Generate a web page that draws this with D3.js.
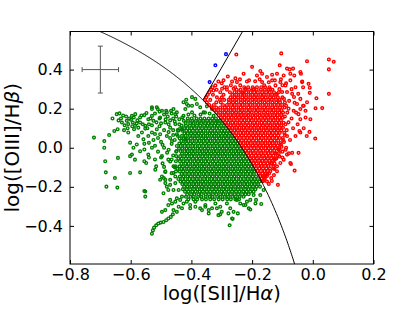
<!DOCTYPE html>
<html>
<head>
<meta charset="utf-8">
<script src="https://cdn.jsdelivr.net/npm/d3@7"></script>
<style>
    body { margin: 0; background: #fff; }
    svg { display: block; }
    text { font-family: "DejaVu Sans", sans-serif; fill: #000; }
</style>
</head>
<body>
<svg></svg>
<script>

/*
*   Data. All values are x1000.
*   Dense clouds are kept as rows: [y, x, x, x, ...]
*   Scattered points are kept as flat pairs: x, y, x, y, ...
*/

const GREEN_ROWS = [
    [150, -412,-399,-383,-370,-357,-343,-331,-319],
    [138, -425,-411,-397,-385,-372,-361,-348,-337,-325,-314,-306],
    [126, -419,-404,-393,-380,-368,-355,-344,-332,-321,-309,-299],
    [113, -432,-418,-405,-394,-382,-371,-358,-347,-335,-324,-313,-302,-293],
    [100, -437,-424,-413,-400,-389,-376,-365,-352,-342,-330,-317,-307,-296,-286],
    [87, -443,-430,-417,-406,-395,-382,-371,-360,-346,-336,-323,-313,-301,-290,-280],
    [74, -423,-412,-401,-388,-376,-366,-353,-340,-330,-318,-305,-295,-284,-273],
    [61, -445,-431,-419,-405,-395,-382,-370,-360,-347,-334,-324,-311,-300,-289,-277,-266],
    [48, -439,-426,-415,-402,-389,-379,-366,-353,-343,-330,-317,-307,-294,-283,-270,-260],
    [35, -433,-420,-410,-397,-384,-373,-360,-348,-337,-324,-312,-302,-289,-277,-266,-254],
    [22, -440,-428,-415,-404,-392,-378,-368,-355,-342,-332,-319,-306,-296,-283,-271,-260,-248],
    [9, -448,-435,-422,-411,-397,-387,-374,-361,-351,-338,-325,-315,-302,-290,-279,-266,-254,-243],
    [-4, -441,-430,-416,-405,-394,-380,-369,-356,-345,-331,-321,-308,-297,-284,-273,-260,-249,-239],
    [-17, -449,-436,-423,-412,-399,-388,-374,-364,-351,-340,-327,-316,-303,-292,-279,-268,-255,-244,-233],
    [-30, -431,-417,-406,-394,-381,-371,-358,-346,-335,-322,-311,-298,-287,-274,-262,-251,-238,-228],
    [-43, -450,-437,-424,-413,-400,-389,-376,-364,-353,-340,-329,-316,-305,-292,-281,-268,-257,-244,-233,-222],
    [-56, -443,-432,-418,-408,-395,-383,-372,-359,-348,-334,-324,-310,-300,-287,-276,-263,-252,-239,-228,-217],
    [-69, -451,-438,-427,-414,-403,-390,-378,-367,-354,-343,-330,-319,-306,-294,-283,-270,-259,-246,-235,-223,-212],
    [-82, -433,-420,-409,-396,-385,-372,-361,-348,-337,-324,-313,-300,-289,-276,-265,-252,-241,-228,-217,-207],
    [-95, -452,-439,-428,-415,-404,-391,-380,-367,-356,-343,-332,-319,-308,-295,-284,-271,-260,-247,-236,-223,-212,-202],
    [-108, -446,-433,-422,-409,-398,-385,-374,-361,-350,-337,-326,-313,-302,-289,-278,-265,-254,-241,-230,-217,-206,-197],
    [-121, -451,-438,-427,-414,-401,-391,-378,-366,-355,-342,-331,-318,-307,-294,-283,-270,-259,-246,-235,-222,-211,-200,-193],
    [-134, -432,-421,-408,-397,-384,-373,-360,-349,-336,-325,-312,-301,-288,-277,-264,-253,-240,-229,-216,-205,-194],
    [-147, -438,-426,-413,-402,-389,-378,-365,-354,-341,-330,-317,-306,-293,-282,-269,-258,-245,-234,-221,-210,-198,-187],
    [-160, -443,-430,-419,-406,-395,-382,-371,-358,-347,-334,-323,-310,-299,-286,-275,-262,-251,-238,-227,-214,-203,-191,-181],
    [-173, -436,-425,-412,-401,-388,-377,-364,-353,-340,-329,-316,-305,-292,-281,-268,-257,-244,-233,-220,-209,-197,-186,-176],
    [-186, -430,-418,-407,-394,-383,-370,-359,-346,-335,-322,-311,-298,-287,-274,-263,-250,-239,-226,-215,-202,-191,-180],
    [-199, -424,-413,-400,-389,-376,-365,-352,-341,-328,-317,-304,-293,-280,-269,-256,-245,-232,-221,-208,-197,-185,-174],
    [-212, -428,-415,-404,-391,-380,-367,-356,-343,-332,-319,-308,-295,-284,-271,-260,-247,-236,-223,-212,-200,-189],
    [-225, -421,-410,-397,-386,-373,-362,-349,-338,-325,-314,-301,-290,-277,-266,-253,-242,-229,-218,-206,-195],
    [-238, -414,-401,-390,-377,-366,-353,-342,-329,-318,-305,-294,-281,-270,-257,-246,-233,-222,-211],
    [-251, -418,-403,-392,-378,-367,-353,-340,-330,-315,-304,-290,-279,-265,-254,-241,-228],
    [-264, -410,-393,-381,-365,-352,-338,-325,-310,-297,-282,-270,-255,-243],
]

const GREEN_PTS = [
    -721,52, -687,34, -671,65, -687,0, -684,-69, -682,-126, -680,-199, -652,-155, -644,-204, -642,-52,
    -660,150, -646,172, -637,176, -654,86, -643,95, -629,129, -622,90, -613,138, -608,121, -599,143,
    -593,129, -586,112, -596,163, -585,172, -569,155, -555,167, -542,146, -530,163, -525,138, -511,198,
    -530,207, -575,103, -563,78, -552,98, -575,60, -558,43, -542,60, -530,78, -514,95, -503,69,
    -602,26, -591,0, -580,17, -569,-18, -596,-35, -602,-43, -586,-61, -555,-9, -542,-35, -530,0,
    -555,-69, -549,-78, -516,-95, -519,-112, -490,-98, -486,-124, -497,-147, -491,-155, -602,-129, -569,-126,
    -555,-221, -552,-250, -497,189, -481,181, -467,189, -453,172, -440,146, -426,163, -415,224, -398,215,
    -420,198, -486,129, -470,103, -453,121, -481,60, -464,34, -448,69, -431,95, -420,43, -497,-43,
    -476,-61, -459,-95, -486,-164, -470,-190, -453,-147, -442,-216, -476,-216,
    -530,-440, -527,-423, -523,-409, -516,-397, -509,-388, -501,-383, -492,-380, -483,-371, -476,-362, -468,-354,
    -461,-341, -497,-328, -486,-319, -459,-319, -448,-328, -442,-302, -431,-310, -426,-285, -476,-293, -464,-285,
    -453,-276, -470,-267, -448,-259, -437,-267, -431,-250, -415,-276, -404,-293, -387,-302, -371,-310, -492,-233,
    -481,-199, -486,-181, -552,-224, -459,-216, -470,-164, -453,-181, -503,-164, -486,-121, -459,-129,
    -343,-336, -332,-310, -311,-345, -300,-328, -278,-336, -272,-310, -266,-362, -274,-397, -261,-328, -305,-302,
    -354,-302, -365,-319, -321,-285, -239,-285, -222,-293, -206,-267, -189,-285, -211,-310, -173,-242, -195,-242,
    -250,-267, -283,-285, -387,-276, -404,-310, -170,-288, -187,-267, -206,-316, -247,-336, -264,-364, -228,-293,
    -217,-276, -162,-216, -305,-341, -316,-310, -343,-319, -354,-293,
    -426,233, -417,246, -398,259, -410,215, -387,250, -382,224, -371,207, -349,212, -332,198, -360,181,
    -459,198, -448,181, -514,207, -530,198, -483,189, -327,163, -316,138, -398,181, -503,155, -569,129,
    -552,112, -589,95, -608,78,
    -470,50, -465,20, -475,-10, -460,-40, -470,-70, -455,-100, -465,-130, -460,90, -475,120, -490,0,
    -500,30, -510,-20, -495,-80, -520,70, -540,120, -505,150, -460,150, -440,120, -430,155, -410,170,
    -390,165, -370,170, -355,180, -340,175,
    -615,160, -605,150, -590,155, -578,140, -565,165, -548,178, -535,150, -520,175, -505,185, -490,170,
    -478,160, -465,175, -450,160, -470,140, -455,135, -485,145, -500,125, -515,130, -530,115, -545,100,
    -560,120, -580,125, -595,110, -610,100, -620,115, -632,150, -640,140, -625,165, -505,110, -490,90,
    -475,80, -460,65, -445,90, -510,50, -525,40, -540,25, -555,20, -520,10, -495,15, -480,-25,
    -500,-50, -520,-60, -540,-50, -465,-60, -450,-20, -455,40,
]

const RED_ROWS = [
    [310, -330,-291,-256,-226,-213,-198,-184,-170,-157,-143],
    [297, -335,-317,-283,-251,-238,-223,-210,-197,-185,-171,-158,-146,-133],
    [284, -341,-305,-273,-258,-244,-232,-219,-205,-193,-181,-167,-154,-142,-128,-112],
    [271, -346,-329,-294,-265,-252,-238,-226,-212,-199,-187,-173,-161,-147,-134,-121],
    [258, -351,-316,-300,-271,-258,-246,-232,-220,-206,-193,-181,-167,-155,-141,-129,-115,-100],
    [245, -355,-338,-306,-292,-277,-264,-252,-238,-225,-213,-199,-187,-173,-161,-147,-135,-121,-109],
    [232, -349,-318,-303,-276,-263,-251,-237,-225,-211,-199,-185,-173,-159,-147,-133,-120,-108,-92],
    [219, -341,-326,-296,-283,-269,-257,-243,-231,-217,-205,-191,-179,-165,-153,-139,-126,-114,-101],
    [206, -333,-318,-305,-290,-278,-264,-252,-238,-226,-212,-200,-186,-174,-160,-148,-134,-122,-108,-93],
    [193, -325,-312,-297,-285,-271,-259,-245,-233,-219,-207,-193,-181,-167,-155,-141,-129,-115,-103],
    [180, -318,-305,-291,-279,-265,-253,-239,-227,-213,-201,-187,-175,-161,-149,-135,-123,-110,-98],
    [167, -310,-297,-285,-272,-260,-247,-236,-223,-212,-199,-188,-175,-164,-151,-140,-127,-116,-104],
    [154, -303,-291,-278,-267,-254,-243,-230,-219,-206,-195,-182,-171,-158,-147,-134,-123,-110,-99],
    [141, -296,-284,-273,-260,-249,-236,-225,-212,-201,-188,-177,-164,-153,-140,-129,-116,-105],
    [128, -289,-278,-265,-254,-241,-230,-217,-206,-193,-182,-169,-158,-145,-134,-121,-110,-96],
    [115, -283,-271,-260,-247,-236,-223,-212,-199,-188,-175,-164,-151,-140,-127,-116,-104],
    [102, -276,-265,-252,-241,-228,-217,-204,-193,-180,-169,-156,-145,-132,-121,-109,-98],
    [89, -270,-258,-247,-234,-223,-210,-199,-186,-175,-162,-151,-138,-127,-115,-104],
    [76, -263,-252,-239,-228,-215,-204,-191,-180,-167,-156,-143,-132,-120,-109,-94],
    [63, -257,-245,-234,-221,-210,-197,-186,-173,-162,-149,-138,-126,-114],
    [50, -251,-240,-227,-216,-203,-192,-179,-168,-155,-144,-132,-120,-109,-99],
    [37, -245,-234,-221,-210,-197,-186,-173,-162,-149,-138,-126,-114],
    [24, -239,-228,-215,-204,-191,-180,-167,-156,-143,-132,-120,-106],
    [11, -234,-222,-211,-198,-187,-174,-163,-150,-139,-127,-116],
    [-2, -228,-217,-204,-193,-180,-169,-156,-145,-133,-122,-111],
    [-15, -222,-211,-198,-187,-174,-163,-150,-139,-127],
    [-28, -217,-205,-194,-181,-170,-157,-146,-134,-123,-112],
    [-41, -212,-201,-188,-177,-164,-153,-141,-130],
    [-54, -207,-195,-184,-171,-160,-148,-137,-125],
    [-67, -201,-190,-177,-166,-154,-143,-131],
    [-80, -196,-185,-172,-161,-149,-138,-126],
    [-93, -192,-180,-169,-157,-146],
    [-106, -187,-176,-164,-153,-141,-130],
    [-119, -182,-171,-159,-148],
    [-132, -178,-166,-155,-144],
    [-145, -173,-162,-151],
    [-158, -169,-158],
    [-171, -164],
]

const RED_PTS = [
    -252,477, -104,483, -19,443, 53,452, 69,440, 53,401, 53,276, 31,203, 9,202, 12,253,
    -10,307, -10,281, -8,146, -11,81, 8,47, -47,-26, -72,-83, -60,-117, -115,-190, -137,-155,
    -126,-109, -118,-95, -85,-35, -68,-26, -74,-78, -96,-61, -107,-78, -57,60, -41,78, -24,155,
    -41,146, -44,86, -32,215, -41,198, -39,379, -35,339, -61,370, -65,405, -76,401, -200,414,
    -109,422, -173,393, -167,379, -134,374, -118,379, -85,405, -74,379, -96,370, -41,388, -14,327,
    -35,336, -32,310, -48,276, -19,233, -24,189, -228,379, -217,339, -280,365, -294,345, -311,339,
    -266,339, -250,336, -327,293, -321,319, -299,302, -283,310, -261,302, -239,319, -222,302, -184,370,
    -167,336, -151,362, -134,345, -123,319, -107,336, -90,319, -74,345, -57,310, -68,276, -85,285,
    -101,285, -118,276, -41,250, -30,215, -52,224, -63,189, -47,172, -157,-147, -151,-173, -79,-29,
    -165,-170,
    -90,120, -85,60, -95,30, -88,0, -100,-20, -110,-45, -125,-60, -135,-80, -92,160, -80,200,
    -78,240, -70,150, -65,100, -75,40, -140,-120, -150,-135, -160,-150, -113,-10, -105,15, -120,-30,
    -60,230, -55,180, -100,320, -110,300, -140,300, -160,320, -190,340, -240,350, -270,320, -300,330,
    -230,280, -195,300,
    -95,250, -88,215, -84,180, -80,130, -86,90, -92,65, -98,40, -103,5, -108,-15, -115,-40,
    -120,-55, -130,-95, -88,330, -105,350, -125,345, -145,335, -175,350, -210,345, -255,355, -70,300,
    -62,260, -50,120, -30,100, -20,60, -90,-10, -100,-50, -118,-120, -128,-140, -135,-170, -145,-185,
]

const BLUE_PTS = [-286,479, -321,422, -340,336]

// Typical error bar: centre and half-widths
const ERROR_BAR = { x: -700, y: 400, dx: 60, dy: 120 }

const X_TICKS = [-0.8, -0.6, -0.4, -0.2, 0.0, 0.2]
const Y_TICKS = [-0.4, -0.2, 0.0, 0.2, 0.4]


/*
*   Constants
*/

const WIDTH = 415
const HEIGHT = 312
const LEFT = 70
const RIGHT = 373.5
const TOP = 31.5
const BOTTOM = 264
const TICK = 4

const COLORS = {
    green: 'rgb(0, 128, 0)',
    red: 'rgb(255, 0, 0)',
    blue: 'rgb(0, 0, 255)',
    bar: '#555',
}


/*
*   Helpers for turning the stored arrays into points.
*/

const fromPairs = flat => d3.range(0, flat.length, 2).map(i => ({ x: flat[i] / 1000, y: flat[i + 1] / 1000 }))
const fromRows = rows => rows.flatMap(([yv, ...xs]) => xs.map(xv => ({ x: xv / 1000, y: yv / 1000 })))


/*
*   Scales
*/

const x = d3.scaleLinear().domain([-0.8, 0.2]).range([LEFT, RIGHT])
const y = d3.scaleLinear().domain([-0.595, 0.595]).range([BOTTOM, TOP])

const svg = d3.select('svg')
    .attr('width', WIDTH)
    .attr('height', HEIGHT)

svg.append('clipPath').attr('id', 'plot')
    .append('rect')
    .attr('x', LEFT).attr('y', TOP)
    .attr('width', RIGHT - LEFT).attr('height', BOTTOM - TOP)


/*
*   Points
*/

const drawPoints = (pts, color) => {
    svg.append('g')
        .attr('clip-path', 'url(#plot)')
        .selectAll('circle')
        .data(pts)
        .enter()
        .append('circle')
        .attr('cx', d => x(d.x))
        .attr('cy', d => y(d.y))
        .attr('r', 1.35)
        .attr('fill', 'none')
        .attr('stroke', color)
        .attr('stroke-width', 1.4)
}

drawPoints(fromRows(GREEN_ROWS).concat(fromPairs(GREEN_PTS)), COLORS.green)
drawPoints(fromRows(RED_ROWS).concat(fromPairs(RED_PTS)), COLORS.red)
drawPoints(fromPairs(BLUE_PTS), COLORS.blue)


/*
*   Demarcation lines: Kewley (2001) curve and the Seyfert / LINER line.
*/

const kewley = v => 0.72 / (v - 0.32) + 1.30
const seyfert = v => 2.69 * v + 1.218

const line = d3.line().x(d => x(d[0])).y(d => y(d[1]))
const lines = svg.append('g').attr('clip-path', 'url(#plot)')

lines.append('path')
    .attr('d', line(d3.range(-0.8, 0.0, 0.002).map(v => [v, kewley(v)])))
    .attr('fill', 'none').attr('stroke', '#000').attr('stroke-width', 1)

// the straight line starts where it meets the curve
const start = d3.range(-0.5, -0.2, 0.0005).find(v => seyfert(v) >= kewley(v))
lines.append('path')
    .attr('d', line([[start, seyfert(start)], [-0.2, seyfert(-0.2)]]))
    .attr('fill', 'none').attr('stroke', '#000').attr('stroke-width', 1)


/*
*   Error bar
*/

const bar = svg.append('g').attr('stroke', COLORS.bar).attr('stroke-width', 1)
const ex = ERROR_BAR.x / 1000, ey = ERROR_BAR.y / 1000
const edx = ERROR_BAR.dx / 1000, edy = ERROR_BAR.dy / 1000

bar.append('line').attr('x1', x(ex - edx)).attr('x2', x(ex + edx)).attr('y1', y(ey)).attr('y2', y(ey))
bar.append('line').attr('x1', x(ex)).attr('x2', x(ex)).attr('y1', y(ey - edy)).attr('y2', y(ey + edy))
bar.append('line').attr('x1', x(ex) - 2.5).attr('x2', x(ex) + 2.5).attr('y1', y(ey + edy)).attr('y2', y(ey + edy))
bar.append('line').attr('x1', x(ex) - 2.5).attr('x2', x(ex) + 2.5).attr('y1', y(ey - edy)).attr('y2', y(ey - edy))
bar.append('line').attr('x1', x(ex - edx)).attr('x2', x(ex - edx)).attr('y1', y(ey) - 2.5).attr('y2', y(ey) + 2.5)
bar.append('line').attr('x1', x(ex + edx)).attr('x2', x(ex + edx)).attr('y1', y(ey) - 2.5).attr('y2', y(ey) + 2.5)


/*
*   Axes, ticks inside on all four sides.
*/

const fmt = d3.format('.1f')

const axisStyle = g => {
    g.select('.domain').remove()
    g.selectAll('line').attr('stroke', '#000')
    g.selectAll('text').attr('font-size', 16).attr('font-family', '"DejaVu Sans", sans-serif')
}

svg.append('g')
    .attr('transform', `translate(0,${BOTTOM})`)
    .call(d3.axisBottom(x).tickValues(X_TICKS).tickFormat(fmt).tickSize(-TICK).tickPadding(5))
    .call(axisStyle)

svg.append('g')
    .attr('transform', `translate(0,${TOP})`)
    .call(d3.axisTop(x).tickValues(X_TICKS).tickFormat('').tickSize(-TICK))
    .call(axisStyle)

svg.append('g')
    .attr('transform', `translate(${LEFT},0)`)
    .call(d3.axisLeft(y).tickValues(Y_TICKS).tickFormat(fmt).tickSize(-TICK).tickPadding(7))
    .call(axisStyle)

svg.append('g')
    .attr('transform', `translate(${RIGHT},0)`)
    .call(d3.axisRight(y).tickValues(Y_TICKS).tickFormat('').tickSize(-TICK))
    .call(axisStyle)

svg.append('rect')
    .attr('x', LEFT).attr('y', TOP)
    .attr('width', RIGHT - LEFT).attr('height', BOTTOM - TOP)
    .attr('fill', 'none').attr('stroke', '#000').attr('stroke-width', 1)


/*
*   Axis labels
*/

const xLabel = svg.append('text')
    .attr('x', (LEFT + RIGHT) / 2).attr('y', 300)
    .attr('text-anchor', 'middle').attr('font-size', 19.5)
xLabel.append('tspan').text('log([SII]/H')
xLabel.append('tspan').attr('font-style', 'italic').text('α')
xLabel.append('tspan').text(')')

const yLabel = svg.append('text')
    .attr('transform', `translate(19,${(TOP + BOTTOM) / 2}) rotate(-90)`)
    .attr('text-anchor', 'middle').attr('font-size', 20)
yLabel.append('tspan').text('log([OIII]/H')
yLabel.append('tspan').attr('font-style', 'italic').text('β')
yLabel.append('tspan').text(')')

</script>
</body>
</html>
